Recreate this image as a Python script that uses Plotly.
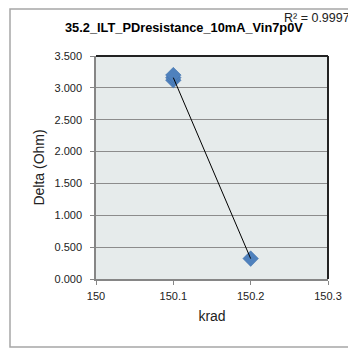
import numpy as np
import plotly.graph_objects as go

# data
krad = [150.1, 150.1, 150.1, 150.2]
delta = [3.12, 3.16, 3.20, 0.32]
r2_text = "R² = 0.9997"
title_text = "35.2_ILT_PDresistance_10mA_Vin7p0V"

# the page has an 8px body margin, so the figure is 8px smaller
OFF = 8
W, H = 356 - OFF, 348 - OFF
L, R, T, B = 96 - OFF, 28, 56 - OFF, 69
pw, ph = W - L - R, H - T - B

def px(x):
    return (x - OFF - L) / pw

def py(y):
    return 1 - (y - OFF - T) / ph

# linear trendline over the data range
k, c = np.polyfit(krad, delta, 1)
tx = [min(krad), max(krad)]
ty = [k * v + c for v in tx]

fig = go.Figure()
fig.add_trace(go.Scatter(x=krad, y=delta, mode='markers',
                         marker=dict(symbol='diamond', size=12, color='#4f81bd',
                                     line=dict(color='#3f6fa8', width=0.5)),
                         showlegend=False))
fig.add_trace(go.Scatter(x=tx, y=ty, mode='lines',
                         line=dict(color='black', width=1), showlegend=False))

font = "Liberation Sans"
fig.update_layout(
    width=W, height=H, margin=dict(l=L, r=R, t=T, b=B),
    paper_bgcolor='white', plot_bgcolor='#e6ebeb',
    font=dict(family=font, color='#222222', size=11),
    xaxis=dict(range=[150, 150.3], dtick=0.1, tick0=150, showgrid=False, zeroline=False,
               showline=True, linecolor='#868686', linewidth=1.5,
               ticks='outside', ticklen=4, tickcolor='#868686', ticklabelstandoff=2,
               title=dict(text='krad', font=dict(size=14), standoff=10)),
    yaxis=dict(range=[0, 3.5], dtick=0.5, tickformat='.3f', showgrid=True,
               gridcolor='#8c8c8c', gridwidth=1, zeroline=False,
               showline=True, linecolor='#868686', linewidth=1.5,
               ticks='outside', ticklen=4, tickcolor='#868686', ticklabelstandoff=6,
               title=dict(text='Delta (Ohm)', font=dict(size=14), standoff=7)),
    shapes=[
        # plot frame top and right
        dict(type='line', xref='paper', yref='paper', x0=0, x1=1, y0=1, y1=1,
             line=dict(color='#222222', width=2)),
        dict(type='line', xref='paper', yref='paper', x0=1, x1=1, y0=0, y1=1,
             line=dict(color='#222222', width=2)),
        # chart area border
        dict(type='rect', xref='paper', yref='paper', x0=px(10), x1=px(372),
             y0=py(347), y1=py(9), line=dict(color='#a6a6a6', width=1.5),
             layer='below'),
    ],
    annotations=[
        dict(text="<b>" + title_text + "</b>", xref='paper', yref='paper',
             x=px(184), y=py(27), xanchor='center', yanchor='middle', showarrow=False,
             font=dict(size=12.8, color='black')),
        dict(text=r2_text, xref='paper', yref='paper', x=px(352), y=py(18),
             xanchor='right', yanchor='middle', showarrow=False,
             font=dict(size=12.5, color='#222222')),
    ],
)

fig.write_html("out.html")
